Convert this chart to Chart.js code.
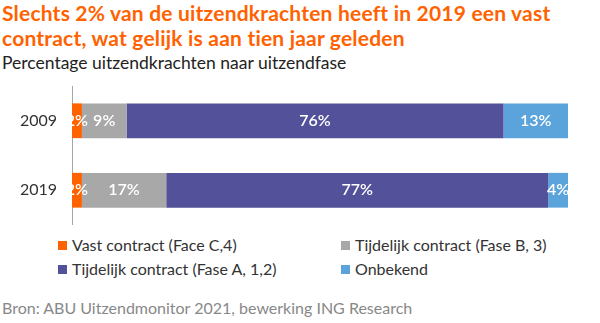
<!DOCTYPE html>
<html>
<head>
<meta charset="utf-8">
<script src="https://cdn.jsdelivr.net/npm/chart.js@4/dist/chart.umd.min.js"></script>
<style>
  body { margin: 0; width: 600px; height: 323px; background: #fff; font-family: Lato, "Open Sans", sans-serif; position: relative; overflow: hidden; }
  #title { position: absolute; left: 2px; top: 0; white-space: nowrap; color: #FF6200; font-weight: bold; font-size: 21px; line-height: 25px; letter-spacing: 0.2px; }
  #subtitle { position: absolute; left: 2px; top: 52px; white-space: nowrap; color: #222; font-size: 17.5px; line-height: 21px; }
  #chart { position: absolute; left: 0; top: 86px; }
  #legend { position: absolute; left: 58px; top: 235px; width: 520px; height: 50px; font-size: 16px; color: #333; }
  .item { position: absolute; white-space: nowrap; }
  .item span.box { display: inline-block; width: 9px; height: 9px; margin-right: 5px; vertical-align: 1px; }
  #source { position: absolute; left: 2px; top: 298px; white-space: nowrap; color: #888; font-size: 16px; }
</style>
</head>
<body>
<div id="title">Slechts 2% van de uitzendkrachten heeft in 2019 een vast<br>contract, wat gelijk is aan tien jaar geleden</div>
<div id="subtitle">Percentage uitzendkrachten naar uitzendfase</div>
<canvas id="chart" width="600" height="139"></canvas>
<div id="legend"></div>
<div id="source">Bron: ABU Uitzendmonitor 2021, bewerking ING Research</div>
<script>
const years = ['2009', '2019'];
const seriesNames = ['Vast contract (Face C,4)', 'Tijdelijk contract (Fase B, 3)', 'Tijdelijk contract (Fase A, 1,2)', 'Onbekend'];
const vast = [2, 2];
const faseB = [9, 17];
const faseA = [76, 77];
const onbekend = [13, 4];
const colors = ['#FF6200', '#A8A8A8', '#525199', '#5BA3DB'];

const values = [vast, faseB, faseA, onbekend];

// white percentage labels in the middle of each segment, clipped to the plot area
const labelPlugin = {
    id: 'segLabels',
    afterDatasetsDraw(chart) {
        const ctx = chart.ctx;
        const area = chart.chartArea;
        ctx.save();
        ctx.beginPath();
        ctx.rect(area.left, area.top, area.right - area.left, area.bottom - area.top);
        ctx.clip();
        ctx.fillStyle = '#fff';
        ctx.font = '600 16px Lato, "Open Sans", sans-serif';
        ctx.textAlign = 'center';
        ctx.textBaseline = 'middle';
        chart.data.datasets.forEach((ds, i) => {
            chart.getDatasetMeta(i).data.forEach((bar, j) => {
                const cx = (bar.x + bar.base) / 2;
                ctx.fillText(ds.data[j] + '%', cx, bar.y);
            });
        });
        ctx.restore();
    }
};

new Chart(document.getElementById('chart'), {
    type: 'bar',
    data: {
        labels: years,
        datasets: seriesNames.map((name, i) => ({
            label: name,
            data: values[i],
            backgroundColor: colors[i],
            borderWidth: 0,
            categoryPercentage: 1,
            barPercentage: 0.5
        }))
    },
    options: {
        indexAxis: 'y',
        responsive: false,
        animation: false,
        layout: { padding: { right: 32, top: 0, bottom: 0, left: 0 } },
        plugins: { legend: { display: false }, tooltip: { enabled: false } },
        scales: {
            x: { stacked: true, display: false, min: 0, max: 100 },
            y: {
                stacked: true,
                grid: { display: false, drawTicks: false },
                border: { color: '#A6A6A6', width: 1 },
                ticks: { color: '#333', font: { size: 16, family: 'Lato, "Open Sans", sans-serif' }, padding: 15 },
                afterFit(scale) {
                    // fixed axis width, and let the plot use the full canvas height
                    scale.width = 72;
                    scale.paddingTop = 0;
                    scale.paddingBottom = 0;
                }
            }
        }
    },
    plugins: [labelPlugin]
});

// legend in two columns
const legend = document.getElementById('legend');
const pos = [[0, 0], [283, 0], [0, 24], [283, 24]];
seriesNames.forEach((name, i) => {
    const d = document.createElement('div');
    d.className = 'item';
    d.style.left = pos[i][0] + 'px';
    d.style.top = pos[i][1] + 'px';
    d.innerHTML = '<span class="box" style="background:' + colors[i] + '"></span>' + name;
    legend.appendChild(d);
});
</script>
</body>
</html>
